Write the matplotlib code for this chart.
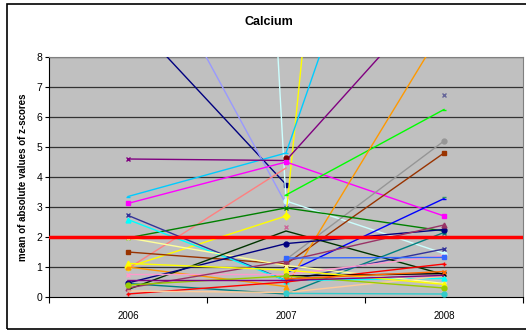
import matplotlib.pyplot as plt
from matplotlib.patches import Rectangle
import numpy as np

nan = np.nan
years = ['2006', '2007', '2008']

# one entry per series, values per year (nan = no value)
v2006 = [9.4, 12.8, 98, 1.0, 3.35, 4.6, nan, 3.12, 0.95, nan, nan, nan, 1.5, 1.0, 1.97, nan,
         0.45, 2.72, 2.58, 1.97, 0.25, 0.47, 0.75, nan, 0.3, 0.1, 0.2, nan, 1.12, 0.4, nan, nan,
         0.55, nan, nan]
v2007 = [3.75, 3.1, 3.2, 2.7, 4.8, 4.55, 4.62, 4.5, 4.3, 3.4, nan, 1.25, 1.1, 0.35, 2.97, 0.8,
         0.1, 0.55, 0.55, 1.05, 2.2, 1.78, 0.75, 2.35, 1.2, 0.5, 0.15, 0.7, 0.9, 0.7, 0.12, 0.6,
         0.55, 1.3, nan]
v2008 = [nan, nan, 1.45, 55, 20, 10.4, nan, 2.7, nan, 6.25, 6.75, 5.2, 4.8, 9.0, 2.2, 3.28,
         2.15, 1.6, 0.62, 0.45, 0.75, 2.25, 1.38, nan, 2.4, 1.1, 0.7, 0.78, 0.42, 0.3, 0.1, 0.85,
         0.72, 1.32, 3.35]

colors = ['#000080', '#9999FF', '#CCFFFF', '#FFFF00', '#00CCFF', '#800080', '#800000', '#FF00FF',
          '#FF8080', '#00FF00', '#666699', '#969696', '#993300', '#FF9900', '#008000', '#0000FF',
          '#008080', '#333399', '#00FFFF', '#FFFF99', '#003300', '#000080', '#FF99CC', '#CC6699',
          '#993366', '#FF0000', '#FFCC99', '#000000', '#FFFF00', '#99CC00', '#33CCCC', '#FF6600',
          '#800080', '#3366FF', '#339966']
markers = ['s', '^', 'o', 'D', '_', 'x', 'o', 's', '', '_', 'x', 'o', 's', '^', 'x', '_',
           'x', 'x', '^', 'x', '', 'o', 'x', 'x', '^', '+', '', 'x', '^', 'o', 'o', 'x',
           '', 's', '_']

plt.rcParams['font.family'] = ['Liberation Sans', 'DejaVu Sans']
fig = plt.figure(figsize=(5.26, 3.31), dpi=100)
fig.patches.append(Rectangle((7 / 526, 2 / 331), 1.2, 325 / 331, transform=fig.transFigure,
                             fill=False, edgecolor='black', linewidth=1.2))
ax = fig.add_axes([49 / 526, 34 / 331, 474 / 526, 240 / 331])
ax.set_facecolor('#C0C0C0')

for y in range(1, 9):
    ax.axhline(y, color='#333333', linewidth=0.9, zorder=1)

x = np.arange(len(years))
for a, b, c, col, m in zip(v2006, v2007, v2008, colors, markers):
    vals = np.array([a, b, c], dtype=float)
    ax.plot(x, vals, color=col, linewidth=1.0, marker=m if m else None, markersize=3.5,
            markeredgewidth=1.0, zorder=3)

ax.axhline(2, color='#FF0000', linewidth=2.5, zorder=4)

ax.set_xlim(-0.5, 2.5)
ax.set_ylim(0, 8)
ax.set_yticks(range(0, 9))
ax.tick_params(axis='y', labelsize=7.5, length=3, pad=2)
ax.set_xticks([-0.5, 0.5, 1.5, 2.5])
ax.set_xticklabels([])
ax.set_xticks(x, minor=True)
ax.set_xticklabels(years, minor=True)
ax.tick_params(axis='x', which='major', length=4)
ax.tick_params(axis='x', which='minor', length=0, labelsize=7, pad=10)
for s in ['top', 'right']:
    ax.spines[s].set_color('#808080')
ax.spines['left'].set_color('black')
ax.spines['bottom'].set_color('black')

ax.set_ylabel('mean of absolute values of z-scores', fontsize=7, fontweight='bold', labelpad=6)
fig.text(269 / 526, 1 - 22 / 331, 'Calcium', ha='center', va='center', fontsize=9,
         fontweight='bold')

fig.savefig('out.png', dpi=100)
